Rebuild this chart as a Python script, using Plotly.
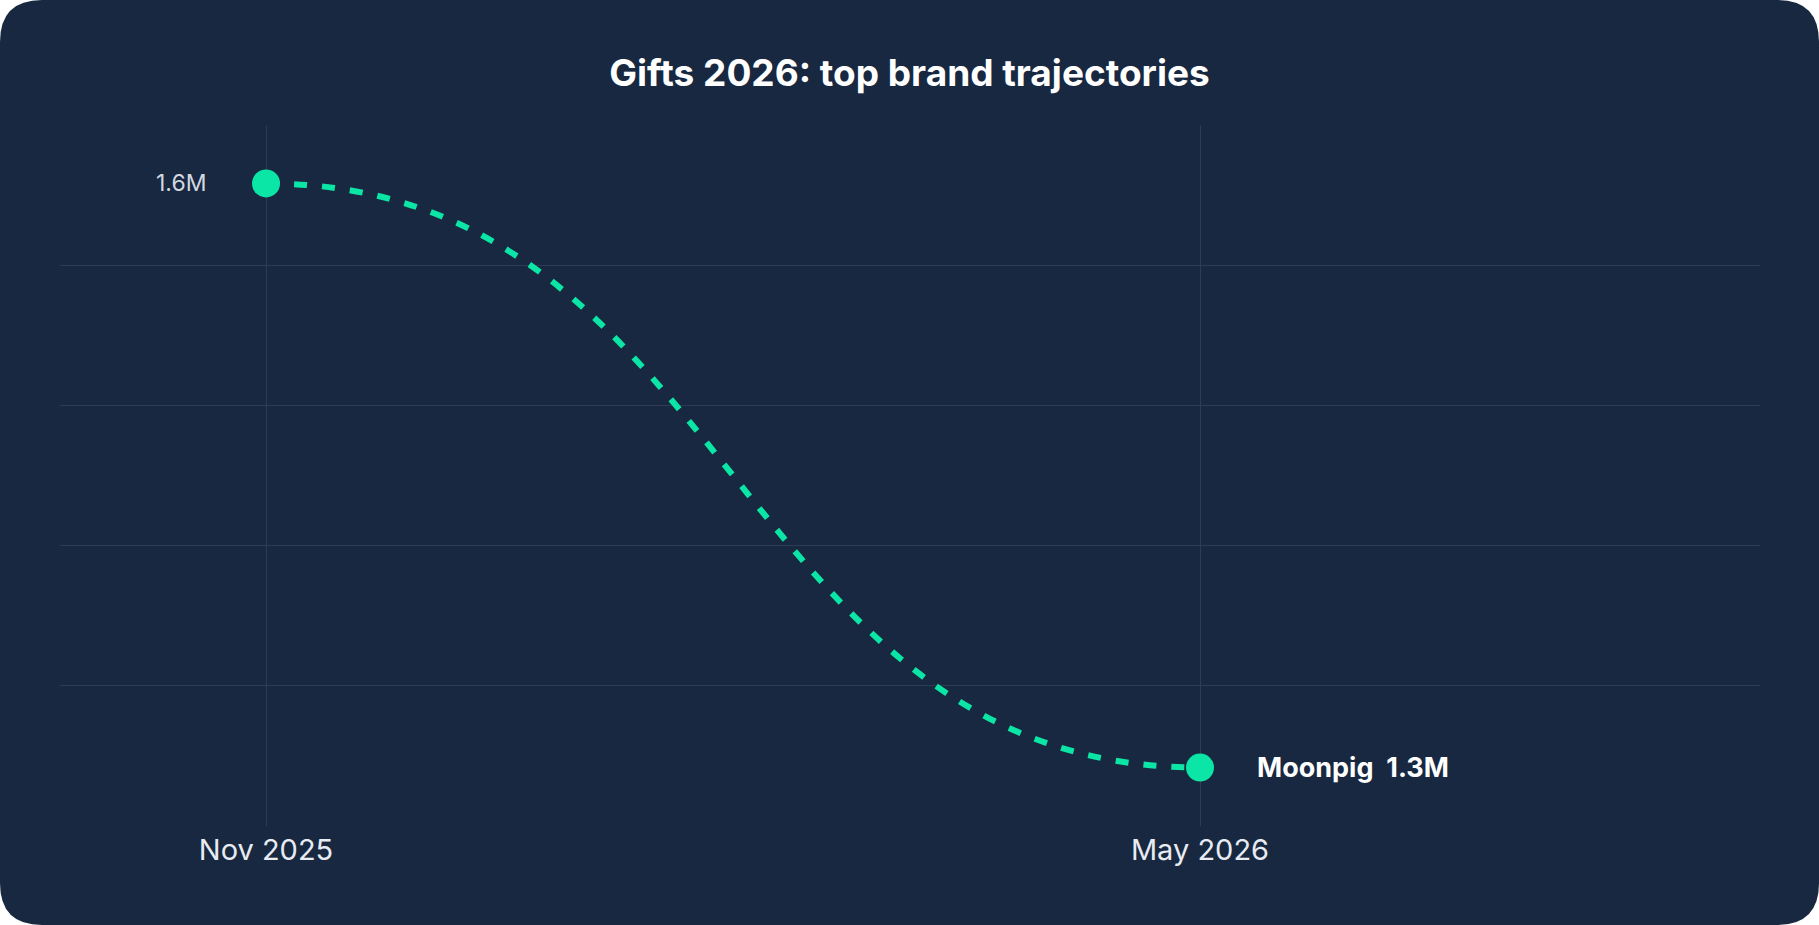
import plotly.graph_objects as go

# ---- data ----
periods = ["Nov 2025", "May 2026"]
brand = "Moonpig"
values_m = [1.6, 1.3]          # millions
value_labels = ["1.6M", "1.3M"]
title_text = "Gifts 2026: top brand trajectories"

# ---- style ----
W, H = 1819, 925
ML, MR, MT, MB = 60, 59, 125, 99
BG = "#172840"
GRID = "#2C3C55"
ACCENT = "#0BE6A6"

xs = list(range(len(periods)))
pad = 0.1 * (max(values_m) - min(values_m))
y0, y1 = min(values_m) - pad, max(values_m) + pad
step = (y1 - y0) / 5
grid_vals = [y0 + k * step for k in range(1, 5)]

fig = go.Figure()

# bump-curve connector computed from the data points
xa, xb = xs[0], xs[-1]
ya, yb = values_m[0], values_m[-1]
xm = (xa + xb) / 2
curve_path = f"M {xa},{ya} C {xm},{ya} {xm},{yb} {xb},{yb}"

fig.add_trace(go.Scatter(
    x=xs, y=values_m, mode="markers",
    marker=dict(size=28, color=ACCENT, line=dict(width=0)),
    hoverinfo="skip", showlegend=False,
))

# rounded background card in paper coordinates
pw, ph = W - ML - MR, H - MT - MB
def px_x(p): return (p - ML) / pw
def px_y(p): return (H - MB - p) / ph
r = 42
L, R, T, B = px_x(0), px_x(W), px_y(0), px_y(H)
rx, ry = r / pw, r / ph
card = (f"M {L+rx},{T} L {R-rx},{T} Q {R},{T} {R},{T-ry} "
        f"L {R},{B+ry} Q {R},{B} {R-rx},{B} "
        f"L {L+rx},{B} Q {L},{B} {L},{B+ry} "
        f"L {L},{T-ry} Q {L},{T} {L+rx},{T} Z")

fig.update_layout(
    shapes=[
        dict(type="path", xref="paper", yref="paper", path=card,
             fillcolor=BG, line=dict(width=0), layer="below"),
        dict(type="path", xref="x", yref="y", path=curve_path,
             line=dict(color=ACCENT, width=6, dash="13px,15px"),
             layer="between"),
    ],
)

fig.add_annotation(x=xs[0], y=values_m[0], text=value_labels[0],
                   xanchor="right", yanchor="middle", xshift=-58, showarrow=False,
                   font=dict(family="Inter", size=23, color="#D3D8E0"))
fig.add_annotation(x=xs[-1], y=values_m[-1],
                   text=f"<b>{brand}&nbsp;&nbsp;{value_labels[-1]}</b>",
                   xanchor="left", yanchor="middle", xshift=55, showarrow=False,
                   font=dict(family="Inter", size=27, color="#FFFFFF"))

fig.update_layout(
    width=W, height=H,
    margin=dict(l=ML, r=MR, t=MT, b=MB),
    paper_bgcolor="#FFFFFF",
    plot_bgcolor="rgba(0,0,0,0)",
    title=dict(text=f"<b>{title_text}</b>", x=0.5, xanchor="center",
               y=1 - 73 / H, yanchor="middle", yref="container",
               font=dict(family="Inter", size=37, color="#FFFFFF")),
    xaxis=dict(range=[-0.2206, 1.5996], tickvals=xs, ticktext=periods,
               showgrid=True, gridcolor=GRID, gridwidth=1, zeroline=False,
               showline=False, ticks="", ticklabelstandoff=4,
               tickfont=dict(family="Inter", size=29, color="#E8ECF2")),
    yaxis=dict(range=[y0, y1], tickvals=grid_vals, showticklabels=False,
               showgrid=True, gridcolor=GRID, gridwidth=1, zeroline=False,
               showline=False, ticks=""),
    showlegend=False,
)

fig.write_html("out.html")
